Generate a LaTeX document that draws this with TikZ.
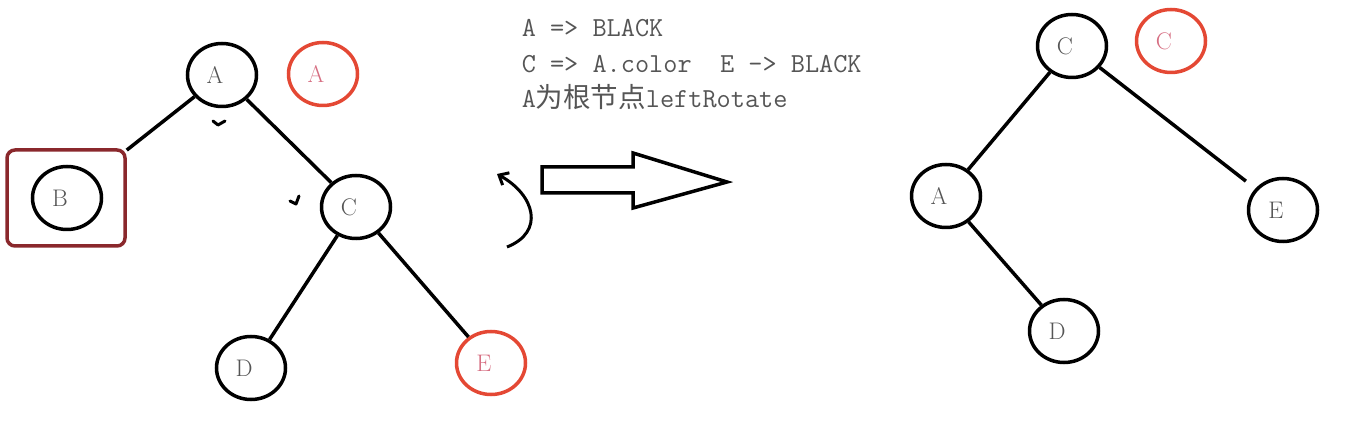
\documentclass[tikz,border=0pt]{standalone}
\usepackage{fontspec}
\newfontfamily\cjk{Noto Sans CJK SC}
\usepackage{xcolor}
\usepackage{tikz}
\usetikzlibrary{arrows.meta,calc,positioning,shapes.geometric}
\definecolor{redline}{RGB}{228,72,52}
\definecolor{redtext}{RGB}{214,110,130}
\definecolor{boxred}{RGB}{138,40,44}
\definecolor{inkgray}{RGB}{85,85,85}

\begin{document}
\begin{tikzpicture}[
  x=1pt, y=-1pt,
  line width=3.5pt,
  nd/.style={ellipse, draw=black, line width=3.5pt, minimum width=69pt, minimum height=63pt,
             inner sep=0pt, text=inkgray, font=\fontsize{24}{24}\selectfont,
             execute at end node={\hspace{14pt}}},
  rnd/.style={nd, draw=redline, text=redtext},
  edge/.style={draw=black, line width=3.5pt},
  note/.style={anchor=base west, text=inkgray, font=\ttfamily\fontsize{27.5}{27.5}\selectfont, inner sep=0pt}
]
\useasboundingbox (0,0) rectangle (1345,438);

% ---- left tree ----
\node[nd] (A) at (222,75) {A};
\node[rnd] (Ar) at (323,74) {A};
\node[nd] (B) at (67,198) {B};
\node[draw=boxred, line width=3.5pt, rounded corners=8pt, minimum width=118pt, minimum height=96pt] (Bbox) at (66,198) {};
\node[nd] (C) at (356,207) {C};
\node[nd] (D) at (251,368) {D};
\node[rnd] (E) at (491,363) {E};

\draw[edge] (A) -- (Bbox);
\draw[edge] (A) -- (C);
\draw[edge] (C) -- (D);
\draw[edge] (C) -- (E);

% ---- small marks ----
\draw[line width=3pt, line cap=round, line join=round] (213,121) -- (218,125) -- (225,121);
\draw[line width=3pt, line cap=round, line join=round] (290,201) -- (296,204) -- (299,196);

% ---- notes ----
\node[note] (N1) at (520,37) {A => BLACK};
\node[note] (N2) at (520,73) {C => A.color\ \ E -> BLACK};
\node[note] (N3) at (520,108) {A{\cjk 为根节点}leftRotate};

% ---- hollow arrow ----
\draw[line width=3.5pt, line join=miter] (542,167) -- (633,167) -- (633,153) -- (727,182)
  -- (633,208) -- (633,193) -- (542,193) -- cycle;

% ---- curved arrow ----
\coordinate (cb) at (507,247);
\coordinate (ct) at (497,174);
\draw[line width=3pt, -{Straight Barb[length=8pt,width=14pt]}]
  (cb) .. controls (545,232) and (535,195) .. (ct);

% ---- right tree ----
\node[nd] (C2) at (1072,46) {C};
\node[rnd] (C2r) at (1171,41) {C};
\node[nd] (A2) at (946,196) {A};
\node[nd] (E2) at (1283,210) {E};
\node[nd] (D2) at (1064,331) {D};

\draw[edge] (C2) -- (A2);
\draw[edge, shorten >=12pt] (C2) -- (E2);
\draw[edge] (A2) -- (D2);

\end{tikzpicture}
\end{document}
